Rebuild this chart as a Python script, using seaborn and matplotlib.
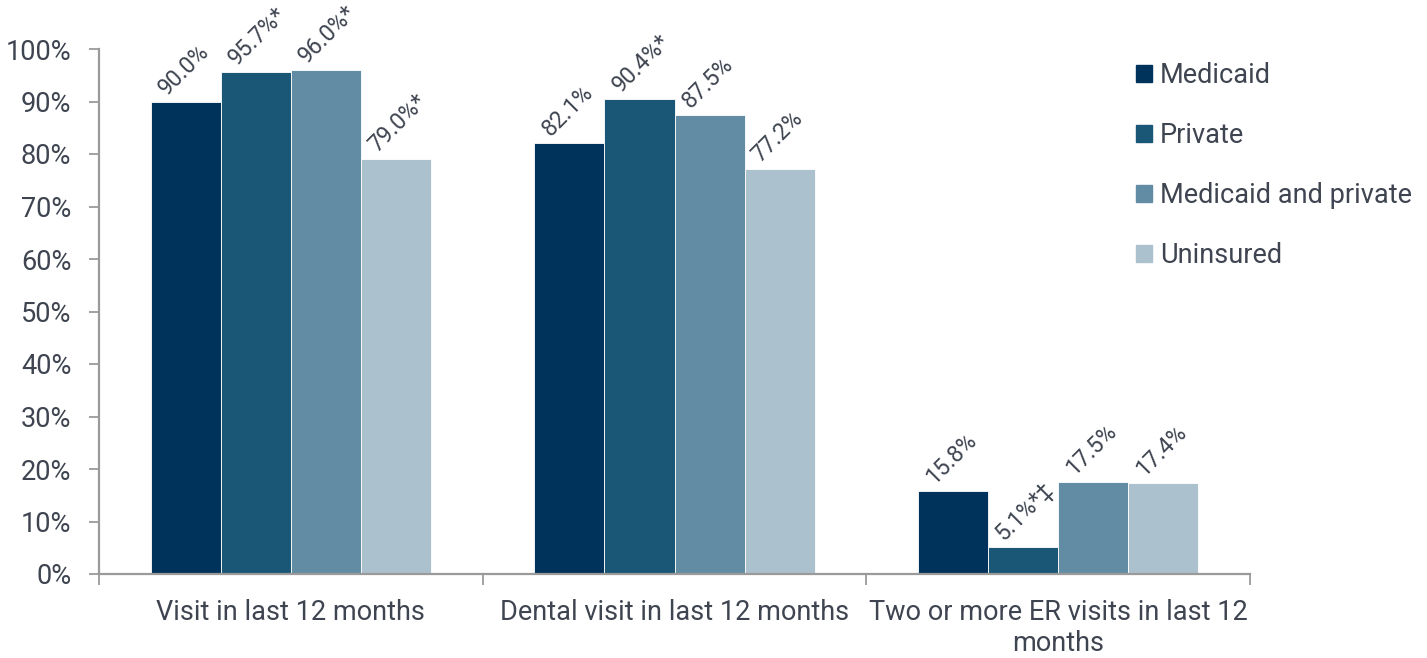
import matplotlib
matplotlib.use("Agg")
import matplotlib.pyplot as plt
import matplotlib.transforms as mtransforms
import seaborn as sns
import pandas as pd
import numpy as np

# Chart data
categories = ["Visit in last 12 months", "Dental visit in last 12 months",
              "Two or more ER visits in last 12\nmonths"]
groups = ["Medicaid", "Private", "Medicaid and private", "Uninsured"]
medicaid = [90.0, 82.1, 15.8]
private = [95.7, 90.4, 5.1]
medicaid_private = [96.0, 87.5, 17.5]
uninsured = [79.0, 77.2, 17.4]
marks = {
    "Medicaid": ["", "", ""],
    "Private": ["*", "*", "*‡"],
    "Medicaid and private": ["*", "", ""],
    "Uninsured": ["*", "", ""],
}
y_ticks = list(range(0, 101, 10))
colors = ["#00335C", "#1A5676", "#628BA4", "#ABC1CE"]

series = [medicaid, private, medicaid_private, uninsured]
rows = []
for g, vals in zip(groups, series):
    for c, v in zip(categories, vals):
        rows.append({"category": c, "group": g, "value": v})
df = pd.DataFrame(rows)

sns.set_theme(style="white")
plt.rcParams["font.family"] = ["Roboto", "DejaVu Sans"]
text_color = "#3E4450"
axis_color = "#9A9A9A"
fs = 19.5

fig = plt.figure(figsize=(14.27, 6.58), dpi=100)
ax = fig.add_axes([99 / 1427, 84 / 658, (1250 - 99) / 1427, (574 - 49) / 658])

sns.barplot(data=df, x="category", y="value", hue="group", hue_order=groups,
            order=categories, palette=colors, width=0.73, saturation=1,
            edgecolor="white", linewidth=0.6, errorbar=None, ax=ax)

# Value labels, rotated 45 degrees, starting just above each bar top
label_shift = mtransforms.offset_copy(ax.transData, fig=fig, x=-19, y=6,
                                      units="dots")
for g, container in zip(groups, ax.containers):
    for i, bar in enumerate(container):
        h = bar.get_height()
        cx = bar.get_x() + bar.get_width() / 2
        label = f"{h:.1f}%" + marks[g][i]
        ax.text(cx, h, label, transform=label_shift, rotation=45,
                rotation_mode="anchor", ha="left", va="baseline",
                fontsize=16.5, color=text_color)

ax.set_ylim(0, 100)
ax.set_xlim(-0.5, 2.5)
ax.set_yticks(y_ticks)
ax.set_yticklabels([f"{t}%" for t in y_ticks])
ax.set_xlabel("")
ax.set_ylabel("")

for s in ["top", "right"]:
    ax.spines[s].set_visible(False)
for s in ["left", "bottom"]:
    ax.spines[s].set_color(axis_color)
    ax.spines[s].set_linewidth(1.6)

ax.tick_params(axis="y", which="major", left=True, length=7, width=1.3,
               color=axis_color, labelsize=fs, labelcolor=text_color, pad=13)
ax.tick_params(axis="x", which="major", bottom=False, labelsize=fs,
               labelcolor=text_color, pad=12)
ax.set_xticks([-0.5, 0.5, 1.5, 2.5], minor=True)
ax.tick_params(axis="x", which="minor", bottom=True, length=8, width=1.3,
               color=axis_color)

ax.legend_.remove()
handles = [plt.Rectangle((0, 0), 1, 1, color=c) for c in colors]
leg = fig.legend(handles, groups, loc="upper left",
                 bbox_to_anchor=(1125 / 1427, 1 - 51 / 658), frameon=False,
                 fontsize=fs, labelspacing=1.22, handlelength=0.6,
                 handleheight=0.6, handletextpad=0.3, borderaxespad=0)
for t in leg.get_texts():
    t.set_color(text_color)

fig.savefig("out.png", dpi=100, facecolor="white")
